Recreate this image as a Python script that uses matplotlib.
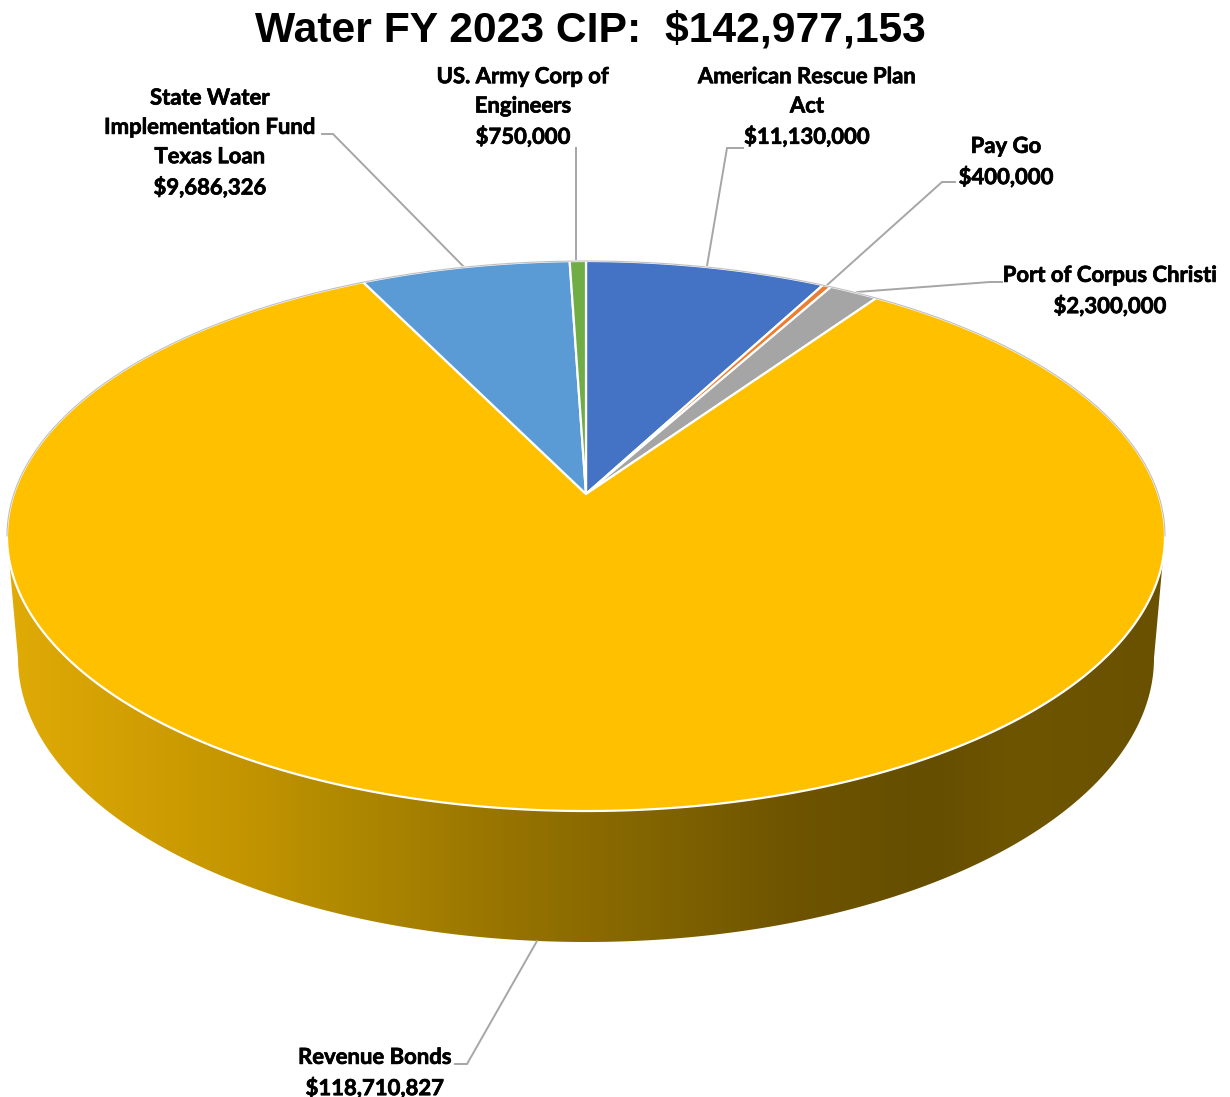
import numpy as np
import matplotlib
matplotlib.use("Agg")
import matplotlib.pyplot as plt
import matplotlib.patheffects as pe
from matplotlib.patches import Polygon
from matplotlib.colors import LinearSegmentedColormap

# ---------- data ----------
title = "Water FY 2023 CIP:  $142,977,153"
categories = ["American Rescue Plan\nAct", "Pay Go", "Port of Corpus Christi",
              "Revenue Bonds", "State Water\nImplementation Fund\nTexas Loan",
              "US. Army Corp of\nEngineers"]
values = [11130000, 400000, 2300000, 118710827, 9686326, 750000]
colors = ["#4472C4", "#ED7D31", "#A5A5A5", "#FFC000", "#5B9BD5", "#70AD47"]

# ---------- geometry of the 3-D disc (pixels) ----------
W, H = 1230, 1097
CX, CY, RX, RY = 586, 536, 579, 275      # top ellipse
APEX_Y = 494
LOW_CY, LOW_RX, LOW_RY = 658, 568, 284   # bottom ellipse
c = (CY - APEX_Y) / RY

def project(theta):
    """Clockwise angle from 12 o'clock on a unit disc -> tilted, perspective ellipse."""
    u, v = np.sin(theta), np.cos(theta)
    d = 1 + c * v
    return CX + RX * u * np.sqrt(1 - c * c) / d, CY - RY * (v + c) / d

fig = plt.figure(figsize=(W / 100, H / 100), dpi=100)
ax = fig.add_axes([0, 0, 1, 1])

# side wall with horizontal gradient
lo = np.linspace(0, np.pi, 361)
wall = np.concatenate([
    [[CX - RX, CY], [CX + RX, CY]],
    np.c_[CX + LOW_RX * np.cos(lo), LOW_CY + LOW_RY * np.sin(lo)],
])
cmap = LinearSegmentedColormap.from_list("wall", [
    (0.00, "#E0AB06"), (0.20, "#C49500"), (0.27, "#B48C00"), (0.43, "#977400"),
    (0.55, "#836500"), (0.68, "#6E5400"), (0.80, "#654E00"), (0.87, "#6E5500"),
    (1.00, "#6A5100")])
grad = np.linspace(0, 1, 512)[None, :]
im = ax.imshow(grad, cmap=cmap, extent=[CX - RX, CX + RX, H, 0], aspect="auto", zorder=1)
clip = Polygon(wall, closed=True, transform=ax.transData, fc="none", ec="none")
ax.add_patch(clip)
im.set_clip_path(clip)

ax.set_xlim(0, W)
ax.set_ylim(H, 0)
ax.axis("off")

# top-face slices
fractions = np.array(values, dtype=float) / np.sum(values)
edges = np.concatenate([[0], np.cumsum(fractions)]) * 2 * np.pi
apex = (CX, APEX_Y)
for a, b, col in zip(edges[:-1], edges[1:], colors):
    th = np.linspace(a, b, max(3, int((b - a) * 180)))
    x, y = project(th)
    pts = np.c_[np.r_[apex[0], x], np.r_[apex[1], y]]
    ax.add_patch(Polygon(pts, closed=True, fc=col, ec="white", lw=1.6, joinstyle="round", zorder=3))

# thin grey rim along the back
limit = np.pi / 2 + np.arcsin(c)
th = np.linspace(-limit, limit, 300)
rx_, ry_ = project(th)
ax.plot(rx_, ry_, color="#BFBFBF", lw=0.8, zorder=4)

# leaders
leaders = [
    ([707, 727, 743], [266, 148, 148]),
    ([826, 942, 955], [286, 182, 182]),
    ([857, 990, 1002], [292, 282, 282]),
    ([537, 467, 455], [941, 1064, 1064]),
    ([463, 333, 322], [266, 134, 134]),
    ([576, 576], [262, 148]),
]
for lx, ly in leaders:
    ax.plot(lx, ly, color="#A6A6A6", lw=1.4, zorder=2, solid_joinstyle="miter")

# labels
label_pos = [(807, 107), (1006, 162), (1110, 291), (375, 1073), (210, 143), (523, 107)]
value_text = [f"${v:,.0f}" for v in values]
for name, val, (lx, ly) in zip(categories, value_text, label_pos):
    ax.text(lx, ly, name + "\n" + val, ha="center", va="center", family="Lato",
            fontweight="bold", fontsize=15.9, linespacing=1.49, color="black", zorder=5,
            path_effects=[pe.withStroke(linewidth=0.5, foreground="black")])

ax.text(590, 30, title, ha="center", va="center", family="Liberation Sans",
        fontweight="bold", fontsize=30.7, color="black", zorder=5)

fig.savefig("out.png", dpi=100, facecolor="white")
